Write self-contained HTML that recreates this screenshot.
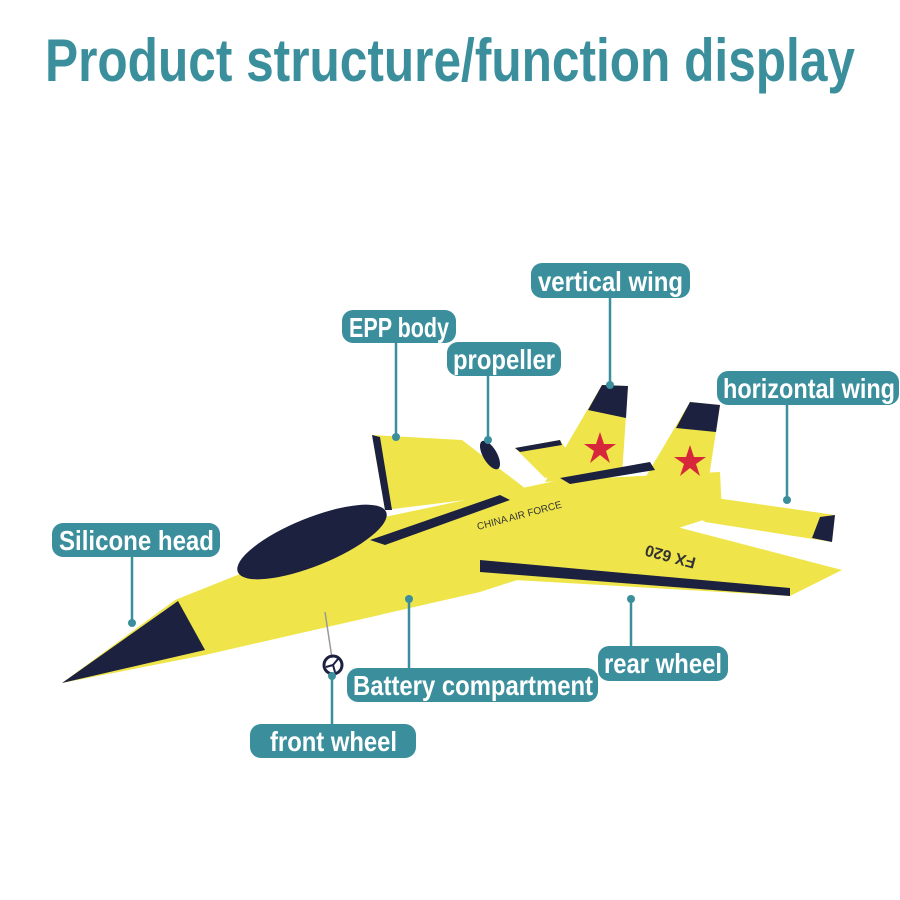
<!DOCTYPE html>
<html><head><meta charset="utf-8"><style>
html,body{margin:0;padding:0;background:#fff;}
svg{display:block;}
.t{font-family:"Liberation Sans Narrow","Liberation Sans",sans-serif;font-weight:bold;fill:#fff;font-size:28px;}
</style></head><body>
<svg width="900" height="900" viewBox="0 0 900 900" xmlns="http://www.w3.org/2000/svg">
<rect width="900" height="900" fill="#fff"/>
<text x="45" y="81" textLength="810" lengthAdjust="spacingAndGlyphs" font-family="'Liberation Sans Narrow','Liberation Sans',sans-serif" font-weight="bold" font-size="60" fill="#3b8f9c">Product structure/function display</text>

<g>
<polygon points="372,435 385,510 530,492 462,440" fill="#efe54a"/>
<polygon points="372,435 380,437 392,510 385,510" fill="#1c2140"/>
<polygon points="515,448 560,440 580,470 545,478" fill="#efe54a"/>
<polygon points="515,448 560,440 562,445 520,452" fill="#1c2140"/>
<ellipse cx="490" cy="455" rx="7" ry="16" transform="rotate(-30 490 455)" fill="#1c2140"/>
<polygon points="545,482 602,385 628,386 622,475" fill="#efe54a"/>
<polygon points="588,410 602,385 628,386 626,418" fill="#1c2140"/>
<polygon points="62,683 175,600 380,518 560,480 720,472 722,514 480,592 205,655" fill="#efe54a"/>
<polygon points="440,545 560,515 650,520 842,570 790,596 480,578" fill="#efe54a"/>
<polygon points="480,560 790,588 790,596 480,572" fill="#1c2140"/>
<polygon points="632,500 690,402 720,405 706,497" fill="#efe54a"/>
<polygon points="676,428 690,402 720,405 716,432" fill="#1c2140"/>
<polygon points="660,490 835,515 832,542 705,522" fill="#efe54a"/>
<polygon points="820,517 835,515 832,542 812,538" fill="#1c2140"/>
<ellipse cx="312" cy="542" rx="80" ry="24" transform="rotate(-22 312 542)" fill="#1c2140"/>
<polygon points="370,540 500,495 510,500 385,545" fill="#1c2140"/>
<polygon points="560,478 650,462 655,470 570,484" fill="#1c2140"/>
<polygon points="62,683 178,601 205,650" fill="#1c2140"/>
<line x1="325" y1="612" x2="332" y2="658" stroke="#999" stroke-width="1.5"/>
<circle cx="333" cy="665" r="9" fill="none" stroke="#1c2140" stroke-width="3"/>
<path d="M333 665 L338 659 M333 665 L326 667 M333 665 L335 672" stroke="#1c2140" stroke-width="2"/>
<text x="478" y="530" font-family="Liberation Sans,sans-serif" font-size="10" fill="#333" transform="rotate(-15 478 530)">CHINA AIR FORCE</text>
<text x="620" y="532" font-family="Liberation Sans,sans-serif" font-weight="bold" font-size="16" fill="#333" transform="rotate(195 660 540)">FX 620</text>
<polygon points="600,432 604,444 616,444 606,451 610,463 600,455 590,463 594,451 584,444 596,444" fill="#d6283a"/>
<polygon points="690,445 694,457 706,457 696,464 700,476 690,468 680,476 684,464 674,457 686,457" fill="#d6283a"/>
</g>

<g stroke="#3b8f9c" stroke-width="2.5" fill="#3b8f9c">
<line x1="610" y1="298" x2="610" y2="385"/><circle cx="610" cy="385" r="4" stroke="none"/>
<line x1="396" y1="343" x2="396" y2="437"/><circle cx="396" cy="437" r="4" stroke="none"/>
<line x1="488" y1="376" x2="488" y2="440"/><circle cx="488" cy="440" r="4" stroke="none"/>
<line x1="787" y1="405" x2="787" y2="500"/><circle cx="787" cy="500" r="4" stroke="none"/>
<line x1="132" y1="557" x2="132" y2="623"/><circle cx="132" cy="623" r="4" stroke="none"/>
<line x1="409" y1="599" x2="409" y2="668"/><circle cx="409" cy="599" r="4" stroke="none"/>
<line x1="631" y1="599" x2="631" y2="646"/><circle cx="631" cy="599" r="4" stroke="none"/>
<line x1="332" y1="676" x2="332" y2="724"/><circle cx="332" cy="676" r="4" stroke="none"/>
</g>

<g fill="#3b8f9c">
<rect x="531" y="263" width="159" height="35" rx="11"/>
<rect x="342" y="310" width="114" height="33" rx="11"/>
<rect x="447" y="342" width="114" height="34" rx="11"/>
<rect x="717" y="371" width="182" height="34" rx="11"/>
<rect x="52" y="523" width="168" height="34" rx="11"/>
<rect x="347" y="668" width="251" height="34" rx="11"/>
<rect x="598" y="646" width="130" height="35" rx="11"/>
<rect x="250" y="724" width="166" height="34" rx="11"/>
</g>
<g class="t">
<text x="538" y="291" textLength="145" lengthAdjust="spacingAndGlyphs">vertical wing</text>
<text x="349" y="337" textLength="100" lengthAdjust="spacingAndGlyphs">EPP body</text>
<text x="453" y="369" textLength="102" lengthAdjust="spacingAndGlyphs">propeller</text>
<text x="723" y="398" textLength="172" lengthAdjust="spacingAndGlyphs">horizontal wing</text>
<text x="59" y="550" textLength="155" lengthAdjust="spacingAndGlyphs">Silicone head</text>
<text x="353" y="695" textLength="240" lengthAdjust="spacingAndGlyphs">Battery compartment</text>
<text x="604" y="673" textLength="118" lengthAdjust="spacingAndGlyphs">rear wheel</text>
<text x="270" y="751" textLength="127" lengthAdjust="spacingAndGlyphs">front wheel</text>
</g>
</svg>
</body></html>
